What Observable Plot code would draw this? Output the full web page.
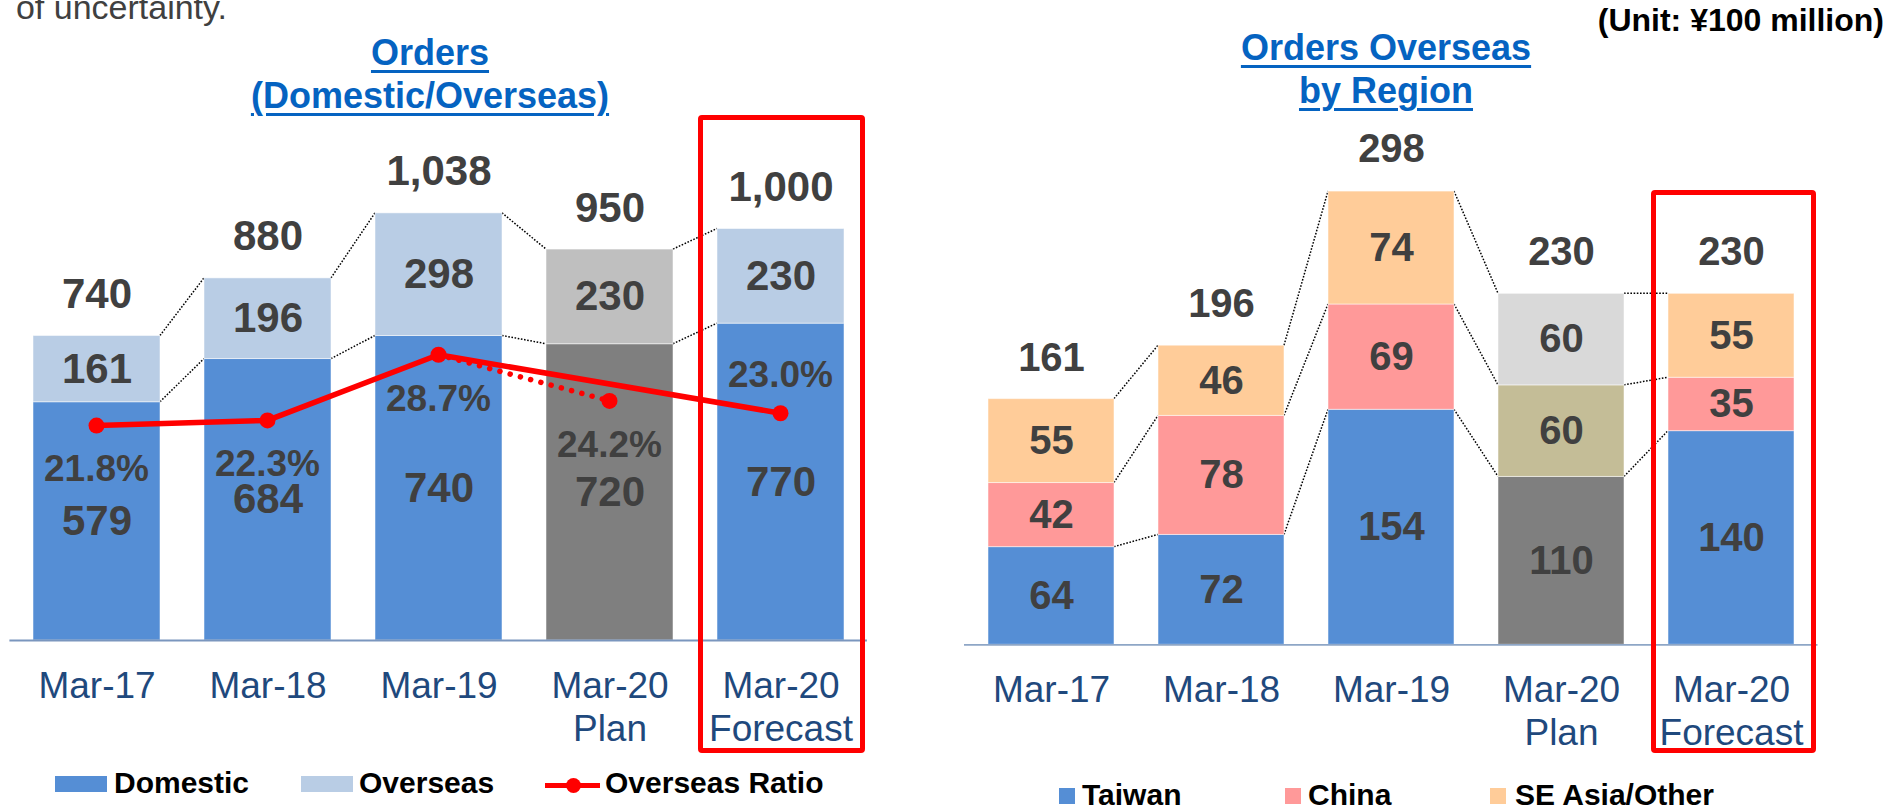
<!DOCTYPE html>
<html>
<head>
<meta charset="utf-8">
<script src="https://cdn.jsdelivr.net/npm/d3@7"></script>
<script src="https://cdn.jsdelivr.net/npm/@observablehq/plot@0.6"></script>
<style>
  html, body { margin: 0; padding: 0; background: #fff; overflow: hidden; }
  #root { position: relative; width: 1904px; height: 807px; overflow: hidden;
          font-family: "Liberation Sans", Arial, Helvetica, sans-serif; background: #fff; }
  .layer { position: absolute; top: 0; }
  .layer svg { display: block; max-width: none; }
  .title { position: absolute; width: 600px; color: #0563C1; font-weight: bold; font-size: 36px;
           line-height: 43px; text-align: center; text-decoration: underline;
           text-decoration-thickness: 2.5px; text-underline-offset: 5px; white-space: nowrap; }
  .note { position: absolute; white-space: nowrap; }
  .box { position: absolute; box-sizing: border-box; border: 5px solid #FF0000; border-radius: 4px; }
  .lg-text { position: absolute; font-size: 30px; font-weight: bold; color: #000; line-height: 34px; white-space: nowrap; }
  .lg-sw { position: absolute; }
</style>
</head>
<body>
<div id="root"></div>
<script>
// ---------------- data ----------------
const categories = ["Mar-17", "Mar-18", "Mar-19", "Mar-20\nPlan", "Mar-20\nForecast"];
const domestic = [579, 684, 740, 720, 770];
const overseas = [161, 196, 298, 230, 230];
const orderTotals = [740, 880, 1038, 950, 1000];
const overseasRatio = [21.8, 22.3, 28.7, 24.2, 23.0];

const taiwan = [64, 72, 154, 110, 140];
const china = [42, 78, 69, 60, 35];
const seAsiaOther = [55, 46, 74, 60, 55];
const regionTotals = [161, 196, 298, 230, 230];

const leftSeries = ["Domestic", "Overseas"];
const rightSeries = ["Taiwan", "China", "SE Asia/Other"];
const ratioName = "Overseas Ratio";
const leftTitle = ["Orders", "(Domestic/Overseas)"];
const rightTitle = ["Orders Overseas", "by Region"];
const unitText = "(Unit: ¥100 million)";
const topNote = "of uncertainty.";

// ---------------- styles ----------------
const FONT = '"Liberation Sans", Arial, Helvetica, sans-serif';
const PLAN = categories[3];
const FORECAST = categories[4];
const LABEL = "#404040";
const leftColors = {Domestic: ["#558ED5", "#7F7F7F"], Overseas: ["#B9CDE5", "#BFBFBF"]};
const rightColors = {"Taiwan": ["#558ED5", "#7F7F7F"], "China": ["#FF9999", "#C4BD97"], "SE Asia/Other": ["#FFCC99", "#D9D9D9"]};
const fmt = d3.format(",");

const root = document.getElementById("root");
function layer(node, left, z) {
  const d = document.createElement("div");
  d.className = "layer";
  d.style.left = left + "px";
  d.style.zIndex = z;
  d.appendChild(node);
  root.appendChild(d);
}

// dotted connectors from right edge of one band to left edge of the next
function connectorMark(links) {
  return (index, scales) => {
    const sx = scales.x, sy = scales.y;
    const bw = typeof sx.bandwidth === "function" ? sx.bandwidth() : sx.bandwidth;
    const g = d3.create("svg:g")
      .attr("stroke", "#000").attr("stroke-width", 1.5)
      .attr("stroke-dasharray", "1.6 1.6").attr("fill", "none");
    for (const l of links) {
      g.append("line")
        .attr("x1", sx(l.from) + bw).attr("y1", sy(l.v1))
        .attr("x2", sx(l.to)).attr("y2", sy(l.v2));
    }
    return g.node();
  };
}

// ---------------- left chart ----------------
const leftRows = categories.flatMap((c, i) => [
  {cat: c, series: leftSeries[0], value: domestic[i]},
  {cat: c, series: leftSeries[1], value: overseas[i]}
]);
const leftLinks = [];
for (let i = 0; i < categories.length - 1; i++) {
  leftLinks.push({from: categories[i], to: categories[i + 1], v1: domestic[i], v2: domestic[i + 1]});
  leftLinks.push({from: categories[i], to: categories[i + 1],
                  v1: domestic[i] + overseas[i], v2: domestic[i + 1] + overseas[i + 1]});
}

const LW = 950, LML = 9.4, LMR = 83.1, LBASE = 640, LK = 0.4115, LYMAX = 1400;
const xLeft = {domain: categories, paddingInner: 0.26, paddingOuter: 0.13, label: null};

const leftPlot = Plot.plot({
  width: LW, height: 807,
  marginLeft: LML, marginRight: LMR, marginBottom: 807 - LBASE, marginTop: LBASE - LYMAX * LK,
  x: xLeft,
  y: {domain: [0, LYMAX], axis: null},
  color: {type: "identity"},
  style: {fontFamily: FONT, background: "transparent", overflow: "visible"},
  marks: [
    connectorMark(leftLinks),
    Plot.barY(leftRows, {x: "cat", y: "value",
      fill: d => leftColors[d.series][d.cat === PLAN ? 1 : 0],
      stroke: "#fff", strokeOpacity: 0.5, strokeWidth: 1}),
    Plot.text(leftRows, Plot.stackY({x: "cat", y: "value", text: "value",
      fontSize: 42, fontWeight: "bold", fill: LABEL})),
    Plot.text(categories, {x: d => d, y: (d, i) => orderTotals[i], text: (d, i) => fmt(orderTotals[i]),
      lineAnchor: "bottom", dy: -28, fontSize: 42, fontWeight: "bold", fill: LABEL}),
    Plot.ruleY([0], {stroke: "#7A96BE", strokeWidth: 1.8}),
    Plot.axisX({tickSize: 0, tickPadding: 26.5, fontSize: 37, lineHeight: 1.17, color: "#1F497D", label: null})
  ]
});
layer(leftPlot, 0, 1);

// overseas ratio overlay (secondary axis)
const ratioRows = categories.map((c, i) => ({cat: c, r: overseasRatio[i]}));
const solidRows = ratioRows.filter(d => d.cat !== PLAN);
const dottedRows = ratioRows.filter(d => d.cat === categories[2] || d.cat === PLAN);
const ratioPlot = Plot.plot({
  width: LW, height: 807, marginLeft: LML, marginRight: LMR, marginTop: 0, marginBottom: 0,
  x: {...xLeft, axis: null},
  y: {domain: [20, 30], range: [443.5, 340.9], axis: null},
  style: {fontFamily: FONT, background: "transparent", overflow: "visible"},
  marks: [
    Plot.line(dottedRows, {x: "cat", y: "r", stroke: "#FF0000", strokeWidth: 5.5,
      strokeDasharray: "0.1 10.5", strokeLinecap: "round"}),
    Plot.line(solidRows, {x: "cat", y: "r", stroke: "#FF0000", strokeWidth: 5.5}),
    Plot.dot(ratioRows, {x: "cat", y: "r", r: 8, fill: "#FF0000"}),
    Plot.text(ratioRows.filter(d => d.cat !== FORECAST), {x: "cat", y: "r", text: d => d.r.toFixed(1) + "%",
      dy: 44, fontSize: 37, fontWeight: "bold", fill: LABEL}),
    Plot.text(ratioRows.filter(d => d.cat === FORECAST), {x: "cat", y: "r", text: d => d.r.toFixed(1) + "%",
      dy: -38, fontSize: 37, fontWeight: "bold", fill: LABEL})
  ]
});
layer(ratioPlot, 0, 2);

// ---------------- right chart ----------------
const regionValues = [taiwan, china, seAsiaOther];
const rightRows = categories.flatMap((c, i) =>
  rightSeries.map((s, j) => ({cat: c, series: s, value: regionValues[j][i]})));
const rightLinks = [];
for (let i = 0; i < categories.length - 1; i++) {
  let a = 0, b = 0;
  for (let j = 0; j < rightSeries.length; j++) {
    a += regionValues[j][i]; b += regionValues[j][i + 1];
    rightLinks.push({from: categories[i], to: categories[i + 1], v1: a, v2: b});
  }
}
const RW = 954, RML = 14, RMR = 86.5, RBASE = 644.3, RK = 1.526, RYMAX = 400;
const rightPlot = Plot.plot({
  width: RW, height: 807,
  marginLeft: RML, marginRight: RMR, marginBottom: 807 - RBASE, marginTop: RBASE - RYMAX * RK,
  x: {domain: categories, paddingInner: 0.258, paddingOuter: 0.129, label: null},
  y: {domain: [0, RYMAX], axis: null},
  color: {type: "identity"},
  style: {fontFamily: FONT, background: "transparent", overflow: "visible"},
  marks: [
    connectorMark(rightLinks),
    Plot.barY(rightRows, {x: "cat", y: "value",
      fill: d => rightColors[d.series][d.cat === PLAN ? 1 : 0],
      stroke: "#fff", strokeOpacity: 0.5, strokeWidth: 1}),
    Plot.text(rightRows, Plot.stackY({x: "cat", y: "value", text: "value",
      fontSize: 40, fontWeight: "bold", fill: LABEL})),
    Plot.text(categories, {x: d => d, y: (d, i) => regionTotals[i], text: (d, i) => fmt(regionTotals[i]),
      lineAnchor: "bottom", dy: -28.5, fontSize: 40, fontWeight: "bold", fill: LABEL}),
    Plot.ruleY([0], {stroke: "#8EA6C6", strokeWidth: 1.8}),
    Plot.axisX({tickSize: 0, tickPadding: 26.5, fontSize: 37, lineHeight: 1.17, color: "#1F497D", label: null})
  ]
});
layer(rightPlot, 950, 1);

// ---------------- titles, notes ----------------
function addDiv(cls, html, css) {
  const d = document.createElement("div");
  d.className = cls;
  d.innerHTML = html;
  Object.assign(d.style, css);
  root.appendChild(d);
  return d;
}
addDiv("title", leftTitle.join("<br>"), {left: "130px", top: "31px"});
addDiv("title", rightTitle.join("<br>"), {left: "1086px", top: "26px"});
addDiv("note", unitText, {right: "20px", top: "2px", fontSize: "32px", fontWeight: "bold",
  color: "#000", lineHeight: "36px"});
addDiv("note", topNote, {right: (1904 - 227) + "px", top: "-13.5px", fontSize: "34px",
  color: "#404040", lineHeight: "40px"});

// red highlight boxes around the forecast column
addDiv("box", "", {left: "698px", top: "115px", width: "167px", height: "638px", zIndex: 5});
addDiv("box", "", {left: "1651px", top: "190px", width: "165px", height: "563px", zIndex: 5});

// ---------------- legends ----------------
function swatch(x, y, w, h, color, extra) {
  const s = addDiv("lg-sw", "", {left: x + "px", top: y + "px", width: w + "px", height: h + "px", background: color});
  if (extra) Object.assign(s.style, extra);
}
function legendText(x, baseline, t) {
  addDiv("lg-text", t, {left: x + "px", top: (baseline - 27.4) + "px"});
}
// left legend
swatch(55, 776, 52, 16, leftColors.Domestic[0]);
legendText(114, 793, leftSeries[0]);
swatch(301, 776, 52, 16, leftColors.Overseas[0]);
legendText(359, 793, leftSeries[1]);
swatch(545, 782.5, 55, 5.5, "#FF0000");
swatch(565.5, 777.5, 15, 15, "#FF0000", {borderRadius: "50%"});
legendText(605, 793, ratioName);
// right legend
const rLegX = [[1059, 1082], [1285, 1308], [1490, 1515]];
rightSeries.forEach((s, j) => {
  swatch(rLegX[j][0], 788, 16, 16, rightColors[s][0]);
  legendText(rLegX[j][1], 805, s);
});
</script>
</body>
</html>
